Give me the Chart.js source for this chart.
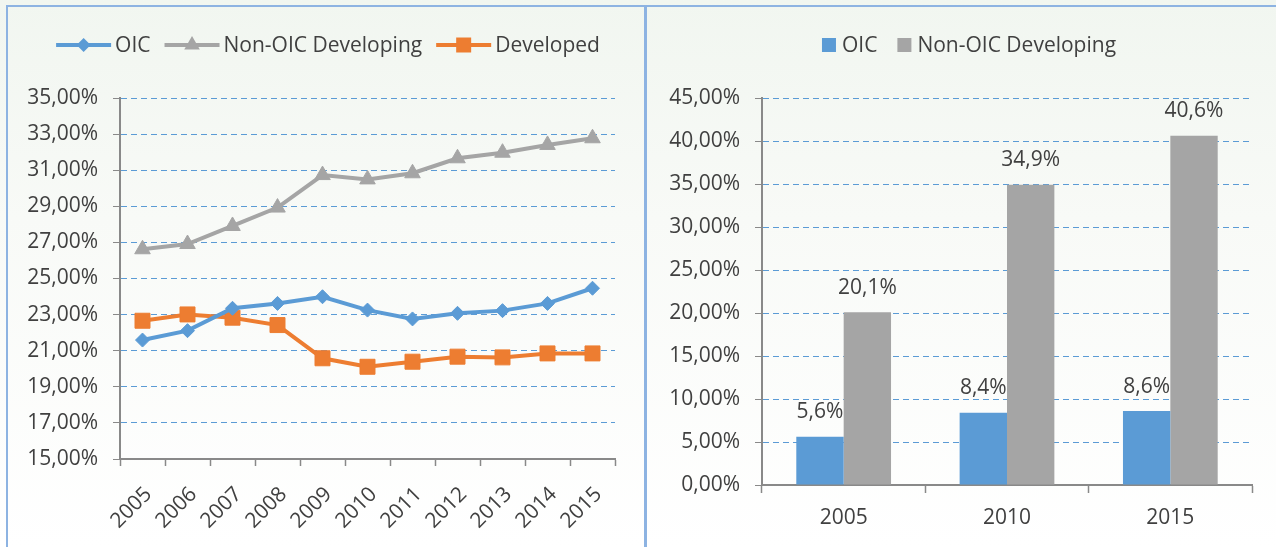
<!DOCTYPE html>
<html>
<head>
<meta charset="utf-8">
<script src="https://cdn.jsdelivr.net/npm/chart.js@4.4.1/dist/chart.umd.min.js"></script>
<style>
  html, body { margin: 0; padding: 0; }
  body {
    width: 1276px; height: 547px; overflow: hidden; position: relative;
    background: linear-gradient(180deg, #f1f6f0 0%, #f8faf7 40%, #ffffff 100%);
  }
  .frame { position: absolute; background: #8db3e2; }
  #left { position: absolute; left: 0; top: 0; }
  #right { position: absolute; left: 648px; top: 0; }
</style>
</head>
<body>
<div class="frame" style="left:6px;top:5px;width:1270px;height:2px"></div>
<div class="frame" style="left:6px;top:5px;width:2px;height:542px"></div>
<div class="frame" style="left:644px;top:5px;width:3px;height:542px"></div>
<canvas id="left" width="640" height="547"></canvas>
<canvas id="right" width="628" height="547"></canvas>
<script>
// dữ liệu biểu đồ đường (trái)
const years = ["2005", "2006", "2007", "2008", "2009", "2010", "2011", "2012", "2013", "2014", "2015"];
const oicShare = [21.59, 22.11, 23.35, 23.62, 23.99, 23.25, 22.76, 23.07, 23.22, 23.62, 24.46];
const nonOicShare = [26.62, 26.91, 27.91, 28.93, 30.73, 30.49, 30.83, 31.66, 31.97, 32.40, 32.77];
const developedShare = [22.66, 23.01, 22.83, 22.42, 20.58, 20.11, 20.39, 20.67, 20.63, 20.85, 20.85];

// dữ liệu biểu đồ cột (phải)
const barYears = ["2005", "2010", "2015"];
const oicBars = [5.6, 8.4, 8.6];
const nonOicBars = [20.1, 34.9, 40.6];

const FONT_FAMILY = "'Open Sans', sans-serif";
const FONT_SIZE = 21;
const TEXT = "#404040";
const BLUE = "#5b9bd5", GRAY = "#a5a5a5", ORANGE = "#ed7d31";
const GRID = "#5b9bd5", AXIS = "#898989";

const pct2 = (v) => v.toFixed(2).replace(".", ",") + "%";
const pct1 = (v) => v.toFixed(1).replace(".", ",") + "%";

// vẽ marker cho chú thích
function marker(ctx, style, x, y, r) {
  ctx.beginPath();
  if (style === "rectRot") {
    ctx.moveTo(x, y - r); ctx.lineTo(x + r, y); ctx.lineTo(x, y + r); ctx.lineTo(x - r, y);
  } else if (style === "triangle") {
    ctx.moveTo(x, y - r); ctx.lineTo(x + r * 0.866, y + r / 2); ctx.lineTo(x - r * 0.866, y + r / 2);
  } else {
    const s = r * Math.SQRT1_2;
    ctx.rect(x - s, y - s, 2 * s, 2 * s);
  }
  ctx.closePath();
  ctx.fill();
}

// chú thích kiểu Excel
const excelLegend = {
  id: "excelLegend",
  afterDraw(chart, args, opts) {
    const ctx = chart.ctx;
    ctx.save();
    ctx.font = `${FONT_SIZE}px ${FONT_FAMILY}`;
    ctx.textBaseline = "middle";
    const symW = opts.kind === "line" ? 55 : 14;
    const items = chart.data.datasets.map((ds) => ({ ds, w: ctx.measureText(ds.label).width }));
    const total = items.reduce((s, it) => s + symW + opts.textGap + it.w, 0) + opts.gap * (items.length - 1);
    let x = opts.cx - total / 2;
    const y = opts.y;
    items.forEach(({ ds, w }) => {
      if (opts.kind === "line") {
        ctx.strokeStyle = ds.borderColor;
        ctx.lineWidth = 4;
        ctx.beginPath(); ctx.moveTo(x, y); ctx.lineTo(x + symW, y); ctx.stroke();
        ctx.fillStyle = ds.backgroundColor;
        marker(ctx, ds.pointStyle, x + symW / 2, y, ds.pointRadius);
      } else {
        ctx.fillStyle = ds.backgroundColor;
        ctx.fillRect(x, y - 7, 14, 14);
      }
      x += symW + opts.textGap;
      ctx.fillStyle = TEXT;
      ctx.fillText(ds.label, x, y + 1);
      x += w + opts.gap;
    });
    ctx.restore();
  },
};

// nhãn giá trị trên cột
const barLabels = {
  id: "barLabels",
  afterDatasetsDraw(chart) {
    const ctx = chart.ctx;
    ctx.save();
    ctx.font = `${FONT_SIZE}px ${FONT_FAMILY}`;
    ctx.fillStyle = TEXT;
    ctx.textAlign = "center";
    ctx.textBaseline = "bottom";
    chart.data.datasets.forEach((ds, i) => {
      chart.getDatasetMeta(i).data.forEach((bar, j) => {
        ctx.fillText(pct1(ds.data[j]), bar.x, bar.y - 14);
      });
    });
    ctx.restore();
  },
};

Chart.defaults.font.family = FONT_FAMILY;
Chart.defaults.font.size = FONT_SIZE;
Chart.defaults.color = TEXT;

function lineSet(label, data, color, style, radius) {
  return {
    label, data,
    borderColor: color, backgroundColor: color,
    borderWidth: 4,
    pointStyle: style, pointRadius: radius,
    pointBackgroundColor: color, pointBorderColor: color, pointBorderWidth: 1,
    tension: 0,
  };
}

new Chart(document.getElementById("left"), {
  type: "line",
  data: {
    labels: years,
    datasets: [
      lineSet("OIC", oicShare, BLUE, "rectRot", 7),
      lineSet("Non-OIC Developing", nonOicShare, GRAY, "triangle", 9),
      lineSet("Developed", developedShare, ORANGE, "rect", 10.6),
    ],
  },
  options: {
    responsive: false,
    animation: false,
    layout: { padding: { top: 98, right: 25, left: 0, bottom: 0 } },
    plugins: {
      legend: { display: false },
      tooltip: { enabled: false },
      excelLegend: { kind: "line", cx: 328, y: 45, gap: 14, textGap: 4 },
    },
    scales: {
      x: {
        offset: true,
        grid: { offset: true, drawOnChartArea: false, tickLength: 7, tickColor: AXIS, tickWidth: 1.5 },
        border: { color: AXIS, width: 2 },
        ticks: { minRotation: 45, maxRotation: 45, padding: 16, labelOffset: 6 },
        afterFit: (s) => { s.height = 88; },
      },
      y: {
        min: 15, max: 35,
        ticks: { stepSize: 2, padding: 15, callback: (v) => pct2(v) },
        grid: { color: GRID, lineWidth: 1, tickLength: 7, tickColor: AXIS, tickBorderDash: [] },
        border: { color: AXIS, width: 2, dash: [6, 4] },
        afterFit: (s) => { s.width = 120; },
      },
    },
  },
  plugins: [excelLegend],
});

new Chart(document.getElementById("right"), {
  type: "bar",
  data: {
    labels: barYears,
    datasets: [
      { label: "OIC", data: oicBars, backgroundColor: BLUE, categoryPercentage: 0.58, barPercentage: 1 },
      { label: "Non-OIC Developing", data: nonOicBars, backgroundColor: GRAY, categoryPercentage: 0.58, barPercentage: 1 },
    ],
  },
  options: {
    responsive: false,
    animation: false,
    layout: { padding: { top: 98, right: 24, left: 0, bottom: 0 } },
    plugins: {
      legend: { display: false },
      tooltip: { enabled: false },
      excelLegend: { kind: "box", cx: 321, y: 45, gap: 20, textGap: 6 },
    },
    scales: {
      x: {
        grid: { drawOnChartArea: false, tickLength: 8, tickColor: AXIS, tickWidth: 1.5 },
        border: { color: AXIS, width: 2 },
        ticks: { padding: 12, maxRotation: 0 },
        afterFit: (s) => { s.height = 62; },
      },
      y: {
        min: 0, max: 45,
        ticks: { stepSize: 5, padding: 15, callback: (v) => pct2(v) },
        grid: { color: GRID, lineWidth: 1, tickLength: 7, tickColor: AXIS, tickBorderDash: [] },
        border: { color: AXIS, width: 2, dash: [6, 4] },
        afterFit: (s) => { s.width = 114; },
      },
    },
  },
  plugins: [excelLegend, barLabels],
});
</script>
</body>
</html>
